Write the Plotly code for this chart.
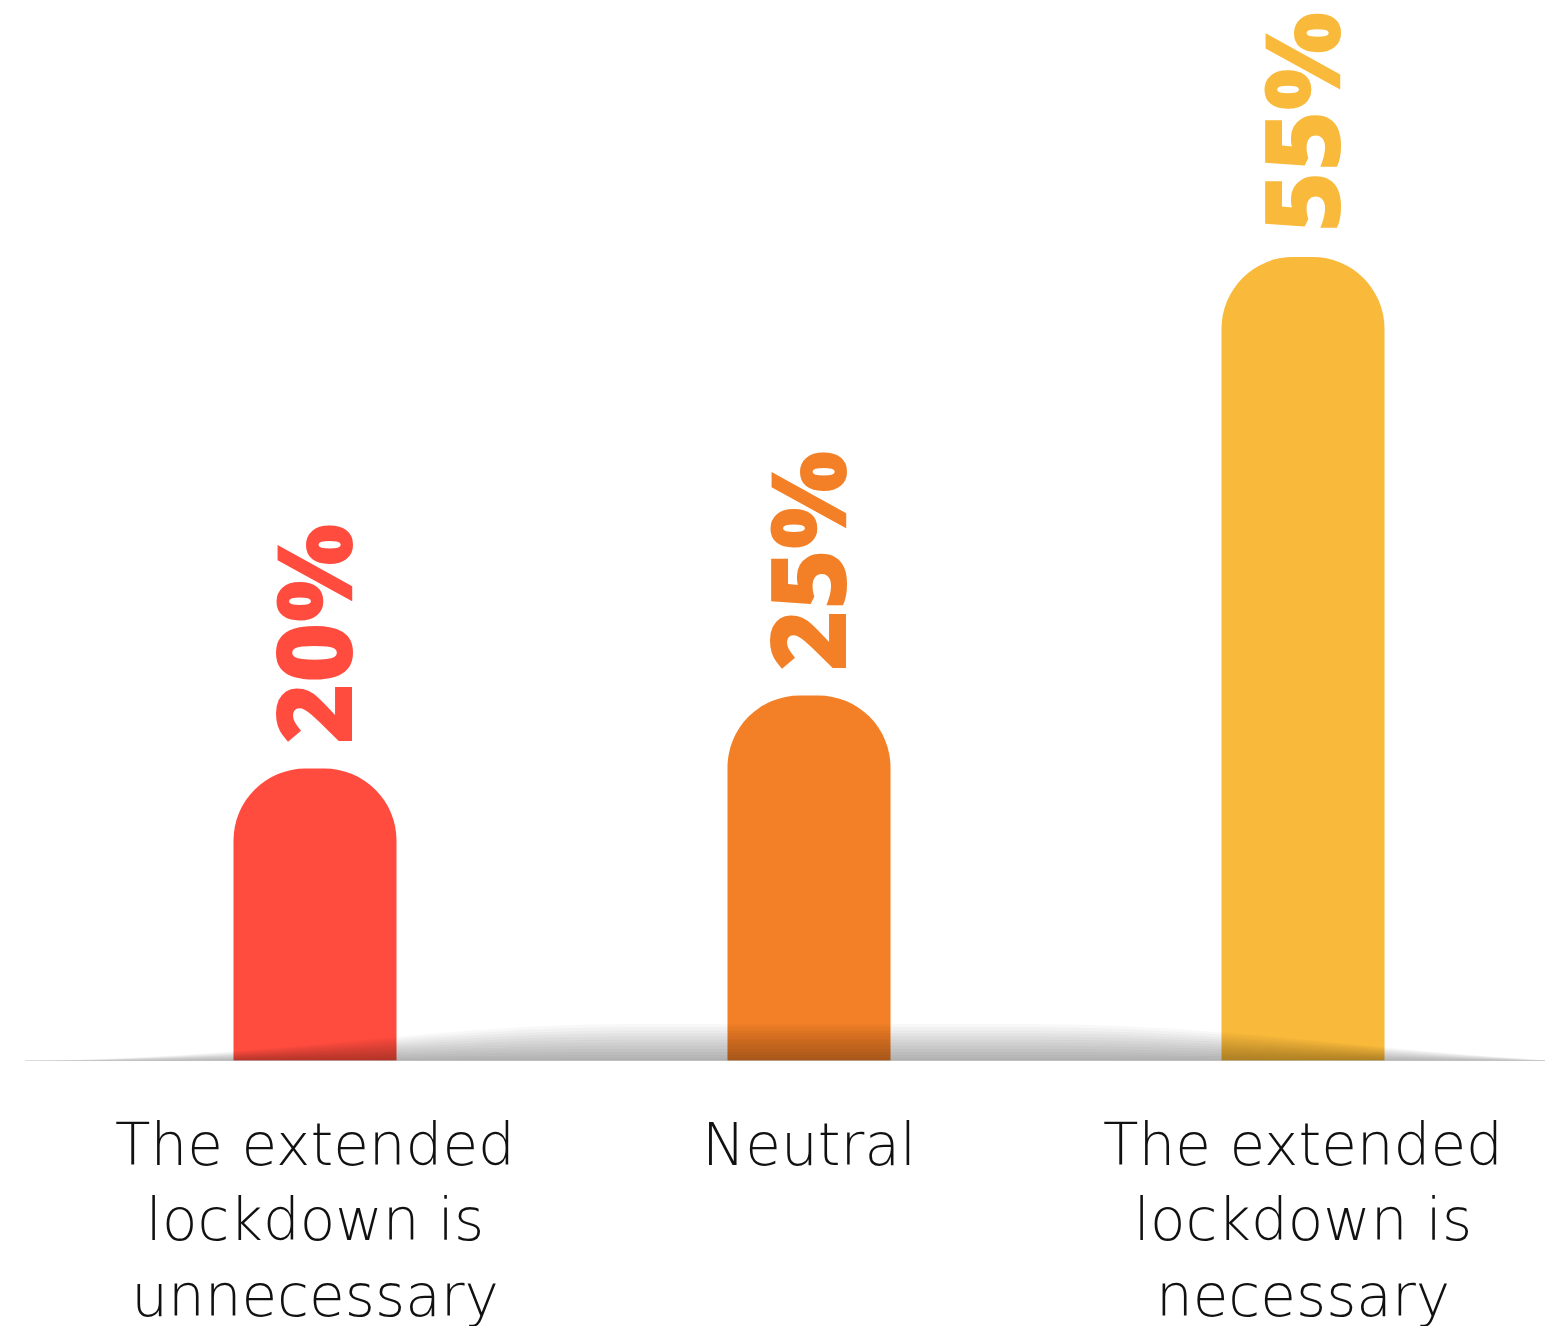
import plotly.graph_objects as go

categories = ["The extended<br>lockdown is<br>unnecessary", "Neutral", "The extended<br>lockdown is<br>necessary"]
values = [20, 25, 55]
labels = ["20%", "25%", "55%"]
colors = ["#FF4C3F", "#F38027", "#F9B93B"]

W, H = 1553, 1326
OFF = 8                      # page body margin offset
L_MARGIN = 60
DOM_W = 1482
R_MARGIN = W - L_MARGIN - DOM_W
BASE_PX = 1061 - OFF         # baseline in figure coords
PX_PER_UNIT = 14.62
YMAX = BASE_PX / PX_PER_UNIT

fig = go.Figure()
fig.add_trace(go.Bar(
    x=categories, y=values,
    marker=dict(color=colors, cornerradius=72, line=dict(width=0)),
    width=0.33,
    hoverinfo="skip",
))

for c, v, t, col in zip(categories, values, labels, colors):
    fig.add_annotation(
        x=c, y=v, xref="x", yref="y", text=t, showarrow=False,
        textangle=-90, xanchor="center", yanchor="bottom", yshift=22, xshift=-4,
        font=dict(family="Open Sans", size=104, color=col, weight=800),
    )

def px2paper(px):
    # px in screen coords
    return (px - OFF - L_MARGIN) / DOM_W

def lens(h):
    pts = [
        ("M", [(25, 0)]),
        ("C", [(300, 0.12 * h), (420, h), (640, h)]),
        ("L", [(1020, h)]),
        ("C", [(1220, h), (1340, 0.35 * h), (1560, 0)]),
    ]
    s = ""
    for cmd, ps in pts:
        s += cmd + " " + " ".join(f"{px2paper(x):.5f},{y:.5f}" for x, y in ps) + " "
    return s + "Z"

HMAX = 37 / PX_PER_UNIT
N = 12
for k in range(1, N + 1):
    fig.add_shape(
        type="path", path=lens(HMAX * k / N), xref="paper", yref="y",
        fillcolor="rgba(0,0,0,0.027)", line=dict(width=0), layer="above",
    )

fig.add_shape(
    type="line", xref="paper", yref="y", x0=px2paper(25), x1=px2paper(1553), y0=0, y1=0,
    line=dict(color="rgba(200,200,200,0.8)", width=1.5), layer="above",
)

fig.update_layout(
    width=W, height=H,
    margin=dict(l=L_MARGIN, r=R_MARGIN, t=0, b=H - BASE_PX),
    paper_bgcolor="white", plot_bgcolor="white",
    showlegend=False,
    xaxis=dict(
        showgrid=False, zeroline=False, showline=False, ticks="",
        tickfont=dict(family="DejaVu Sans", size=58, color="#111111", weight=200),
        ticklabelstandoff=45,
        range=[-0.5, 2.5],
        automargin=False,
    ),
    yaxis=dict(visible=False, range=[0, YMAX]),
)

fig.write_html("out.html")
